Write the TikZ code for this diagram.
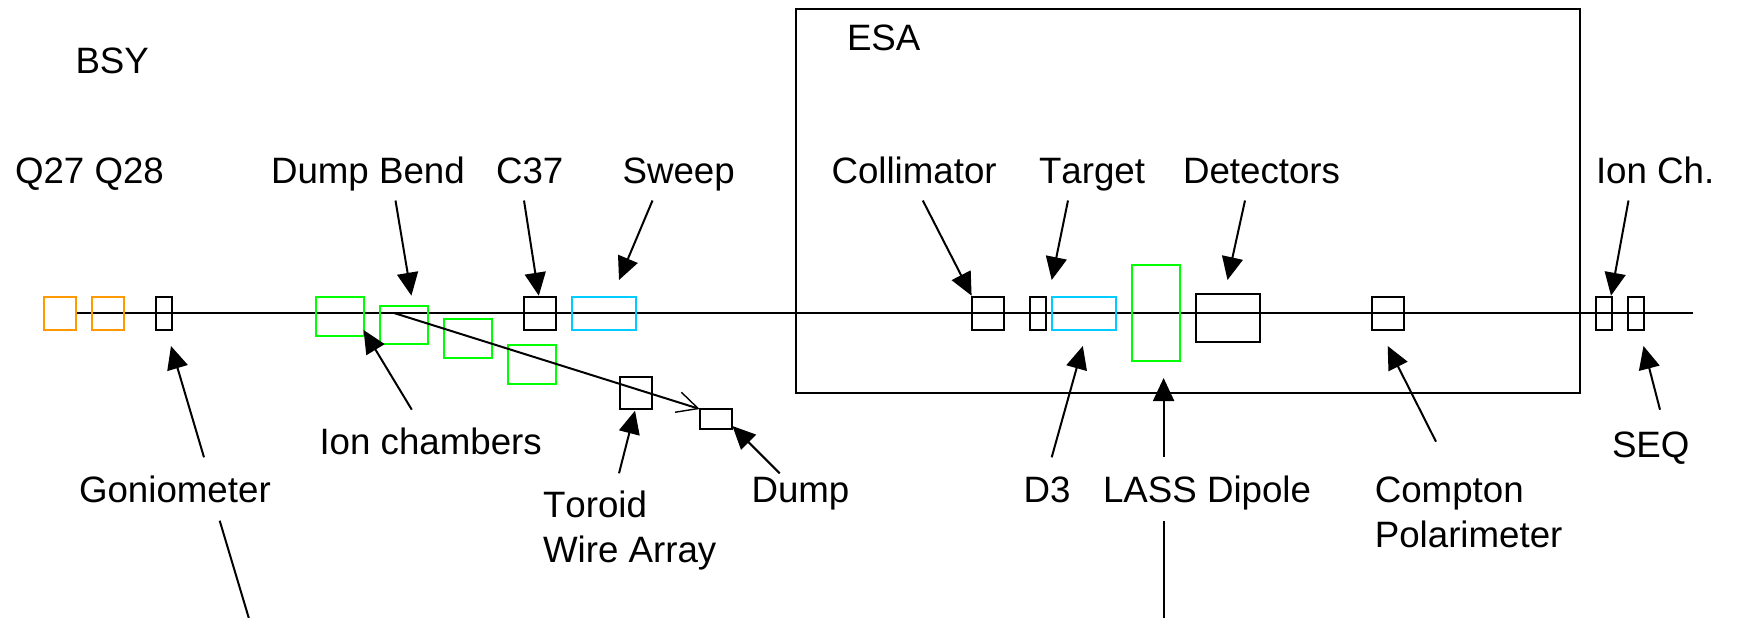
\documentclass[tikz,border=0pt]{standalone}
\usepackage{fontspec}
\setmainfont[Kerning=Off]{Liberation Sans}
\usetikzlibrary{arrows.meta}
\definecolor{ordev}{RGB}{255,153,0}
\definecolor{grdev}{RGB}{0,255,0}
\definecolor{cydev}{RGB}{0,204,255}
\tikzset{
  x=1pt,y=-1pt,
  dev/.style={draw=#1,line width=2pt,inner sep=0pt,outer sep=0pt},
  lab/.style={anchor=base west,inner sep=0pt,outer sep=0pt,font=\fontsize{36.7}{36.7}\selectfont,text=black},
  beam/.style={line width=2pt,draw=black},
  ptr/.style={line width=2pt,draw=black,-{Triangle[length=23pt,width=21pt]}},
  ptrplain/.style={line width=2pt,draw=black},
  dumpline/.style={line width=2pt,draw=black,-{Straight Barb[length=21pt,width=21pt,line width=1.4pt]}},
}
% name, colour, x1, y1, x2, y2
\newcommand{\devbox}[6]{%
  \pgfmathsetmacro{\dcx}{(#3+#5)/2}\pgfmathsetmacro{\dcy}{(#4+#6)/2}%
  \pgfmathsetmacro{\dw}{#5-#3}\pgfmathsetmacro{\dh}{#6-#4}%
  \node[dev=#2,minimum width=\dw pt,minimum height=\dh pt] (#1) at (\dcx,\dcy) {};}
\begin{document}
\begin{tikzpicture}
\useasboundingbox (0,0) rectangle (1737,618);
% enclosure
\devbox{esa}{black}{795.5}{9}{1579.5}{393}
% beam line
\coordinate (bs) at (76,313);
\coordinate (be) at (1692.5,313);
\draw[beam] (bs) -- (be);
% devices
\devbox{q27}{ordev}{43.5}{297}{76}{329.5}
\devbox{q28}{ordev}{91.5}{297}{124.4}{329.5}
\devbox{gon}{black}{155.5}{297}{172}{329.5}
\devbox{ic1}{grdev}{316}{297}{364}{336}
\devbox{ic2}{grdev}{379.5}{306}{428}{344}
\devbox{ic3}{grdev}{444}{318.7}{492}{357.7}
\devbox{ic4}{grdev}{507.5}{345}{556}{384}
\devbox{c37}{black}{523.5}{297}{556}{329.5}
\devbox{swp}{cydev}{571.5}{297}{636}{329.5}
\devbox{tor}{black}{619.5}{376.7}{652}{409}
\devbox{dmp}{black}{699.7}{409}{731.6}{428.7}
\devbox{col}{black}{971.6}{297}{1004.4}{329.5}
\devbox{dtr}{black}{1029.7}{297}{1046.3}{329.5}
\devbox{d3}{cydev}{1051.7}{297}{1116}{329.5}
\devbox{las}{grdev}{1131.7}{265}{1180}{361}
\devbox{det}{black}{1196}{293.7}{1260.4}{342}
\devbox{cmp}{black}{1371.6}{297}{1404}{329.5}
\devbox{ich}{black}{1595.5}{297}{1612.4}{329.5}
\devbox{seq}{black}{1627.8}{297}{1644.2}{329.5}
% dump line
\coordinate (bend) at (394,313);
\draw[dumpline] (bend) -- (dmp.north west);
% labels
\node[lab] (tbsy) at (75.5,74) {BSY};
\node[lab] (tesa) at (847,51) {ESA};
\node[lab] (tq) at (15,183.5) {Q27 Q28};
\node[lab] (tdb) at (271,183.5) {Dump Bend};
\node[lab] (tc37) at (496,183.5) {C37};
\node[lab] (tswp) at (622.6,183.5) {Sweep};
\node[lab] (tcol) at (831.5,183.5) {Collimator};
\node[lab] (ttar) at (1039,183.5) {Target};
\node[lab] (tdet) at (1183,183.5) {Detectors};
\node[lab] (tich) at (1596,183.5) {Ion Ch.};
\node[lab] (tion) at (319.5,454) {Ion chambers};
\node[lab] (tgon) at (79,502.5) {Goniometer};
\node[lab] (ttor) at (543,517.5) {Toroid};
\node[lab] (twir) at (543,562.5) {Wire Array};
\node[lab] (tdmp) at (751.5,502.5) {Dump};
\node[lab] (td3) at (1023.5,502.5) {D3};
\node[lab] (tlas) at (1103,502.5) {LASS Dipole};
\node[lab] (tcom) at (1374.8,502.5) {Compton};
\node[lab] (tpol) at (1374.8,547) {Polarimeter};
\node[lab] (tseq) at (1612,457.5) {SEQ};
% pointer ends
\coordinate (a1) at (204,457.3);   \coordinate (a1t) at (171,346);
\coordinate (a2) at (411.8,409.7); \coordinate (a2t) at (363.6,330);
\coordinate (a3) at (395.5,200.5); \coordinate (a3t) at (411.4,295.7);
\coordinate (a4) at (524,200.5);   \coordinate (a4t) at (538.8,295.7);
\coordinate (a5) at (652.5,200.5); \coordinate (a5t) at (619,280);
\coordinate (a6) at (922.8,200.5); \coordinate (a6t) at (971.6,295.7);
\coordinate (a7) at (1068,200.5);  \coordinate (a7t) at (1051.7,280);
\coordinate (a8) at (1245,200.5);  \coordinate (a8t) at (1227.5,280);
\coordinate (a9) at (1628.5,200.5);\coordinate (a9t) at (1611,295.7);
\coordinate (a10) at (619,473.3);  \coordinate (a10t) at (635,410.7);
\coordinate (a11) at (779.7,473.3);\coordinate (a11t) at (732.4,426);
\coordinate (a12) at (1051.7,457.3);\coordinate (a12t) at (1082.8,346);
\coordinate (a13) at (1163.6,457.3);\coordinate (a13t) at (1163.6,378);
\coordinate (a14) at (1436,441.7); \coordinate (a14t) at (1387.7,346);
\coordinate (a15) at (1660,409.7); \coordinate (a15t) at (1643.5,346);
\foreach \n in {1,...,15} {\draw[ptr] (a\n) -- (a\n t);}
% cut-off lines below the labels
\coordinate (l1) at (219.7,520.7); \coordinate (l1e) at (248.8,618);
\coordinate (l2) at (1163.6,520.7); \coordinate (l2e) at (1163.6,618);
\draw[ptrplain] (l1) -- (l1e);
\draw[ptrplain] (l2) -- (l2e);
\end{tikzpicture}
\end{document}
